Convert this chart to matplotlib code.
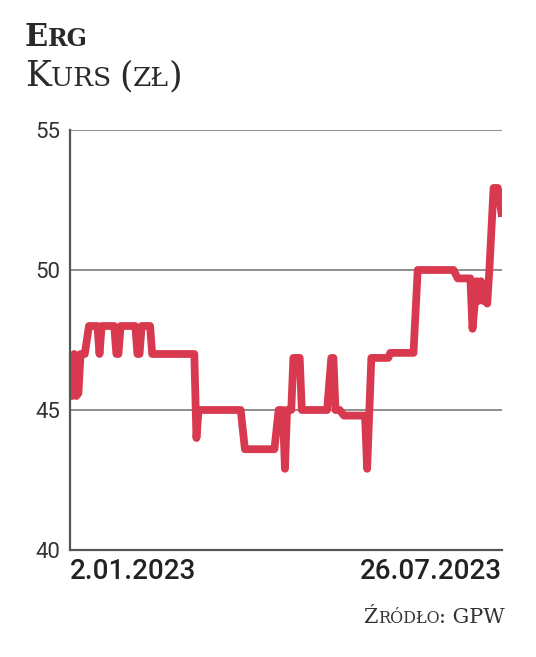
import matplotlib
matplotlib.use("Agg")
import matplotlib.pyplot as plt
import pandas as pd

# ---- data ----
dates = ["2023-01-02", "2023-01-03", "2023-01-04", "2023-01-05", "2023-01-06",
         "2023-01-07", "2023-01-09", "2023-01-11", "2023-01-15", "2023-01-16",
         "2023-01-17", "2023-01-23", "2023-01-24", "2023-01-25", "2023-01-26",
         "2023-02-02", "2023-02-03", "2023-02-04", "2023-02-05", "2023-02-09",
         "2023-02-10", "2023-03-02", "2023-03-03", "2023-03-04", "2023-03-24",
         "2023-03-26", "2023-04-09", "2023-04-11", "2023-04-13", "2023-04-14",
         "2023-04-15", "2023-04-17", "2023-04-18", "2023-04-21", "2023-04-22",
         "2023-05-04", "2023-05-06", "2023-05-07", "2023-05-08", "2023-05-10",
         "2023-05-12", "2023-05-22", "2023-05-23", "2023-05-25", "2023-06-02",
         "2023-06-03", "2023-06-14", "2023-06-16", "2023-07-03", "2023-07-05",
         "2023-07-11", "2023-07-12", "2023-07-14", "2023-07-15", "2023-07-16",
         "2023-07-17", "2023-07-18", "2023-07-19", "2023-07-20", "2023-07-22",
         "2023-07-24", "2023-07-26"]
prices = [47.0, 45.5, 47.0, 45.5, 45.6,
          47.0, 47.0, 48.0, 48.0, 47.0,
          48.0, 48.0, 47.0, 47.0, 48.0,
          48.0, 47.0, 47.0, 48.0, 48.0,
          47.0, 47.0, 44.0, 45.0, 45.0,
          43.6, 43.6, 45.0, 45.0, 42.9,
          45.0, 45.0, 46.86, 46.86, 45.0,
          45.0, 46.86, 46.86, 45.0, 45.0,
          44.8, 44.8, 42.9, 46.86, 46.86,
          47.04, 47.04, 50.0, 50.0, 49.7,
          49.7, 47.9, 49.6, 48.9, 49.6,
          48.9, 49.5, 48.8, 50.0, 52.93,
          52.93, 51.9]
y_ticks = [40, 45, 50, 55]
x_labels = ["2.01.2023", "26.07.2023"]
title_pieces = [("E", 22, "bold"), ("RG", 17, "bold")]
subtitle_pieces = [("K", 25, "normal"), ("URS ", 19, "normal"), ("(", 25, "normal"),
                   ("ZŁ", 19, "normal"), (")", 25, "normal")]
source_pieces = [("Ź", 15, "normal"), ("RÓDŁO", 11.5, "normal"), (": GPW", 15, "normal")]

# ---- figure ----
W, H = 536, 657
fig = plt.figure(figsize=(W / 100, H / 100), dpi=100)
fig.patch.set_facecolor("white")
ax = fig.add_axes([70 / W, 1 - 550 / H, (502 - 70) / W, (550 - 130) / H])

x = pd.to_datetime(dates)
ax.plot(x, prices, color="#d9394f", lw=5.6, solid_joinstyle="round",
        solid_capstyle="butt", zorder=3)

ax.set_ylim(40, 55)
ax.set_xlim(pd.Timestamp(dates[0]), pd.Timestamp(dates[-1]))
ax.set_yticks(y_ticks)
ax.set_yticklabels([str(t) for t in y_ticks])
for t in y_ticks[1:]:
    ax.axhline(t, color="#8e8e8e", lw=1.4, zorder=1)

for s in ["top", "right"]:
    ax.spines[s].set_visible(False)
for s in ["left", "bottom"]:
    ax.spines[s].set_color("#555555")
    ax.spines[s].set_linewidth(1.6)
    ax.spines[s].set_zorder(4)

sans = ["Roboto", "DejaVu Sans"]
ax.tick_params(axis="y", length=0, pad=7, labelsize=16, labelcolor="#333333")
for lab in ax.get_yticklabels():
    lab.set_family(sans)
ax.set_xticks([])

# x labels
ax.text(0.0, -0.018, x_labels[0], transform=ax.transAxes, ha="left", va="top",
        fontsize=20, fontweight="medium", color="#222222", family=sans)
ax.text(1.0, -0.018, x_labels[1], transform=ax.transAxes, ha="right", va="top",
        fontsize=20, fontweight="medium", color="#222222", family=sans)

renderer = fig.canvas.get_renderer()
serif = ["DejaVu Serif"]


def smallcaps(pieces, x_px, y_px, align="left", color="#2a2a2a"):
    texts = []
    for txt, size, weight in pieces:
        t = fig.text(0, 1 - y_px / H, txt, fontsize=size, fontweight=weight,
                     family=serif, color=color, ha="left", va="baseline")
        texts.append(t)
    widths = [t.get_window_extent(renderer).width for t in texts]
    total = sum(widths)
    cur = x_px if align == "left" else x_px - total
    for t, w in zip(texts, widths):
        t.set_x(cur / W)
        cur += w


smallcaps(title_pieces, 25, 46)
smallcaps(subtitle_pieces, 25, 86)
smallcaps(source_pieces, 505, 623, align="right", color="#333333")

fig.savefig("out.png", dpi=100)
